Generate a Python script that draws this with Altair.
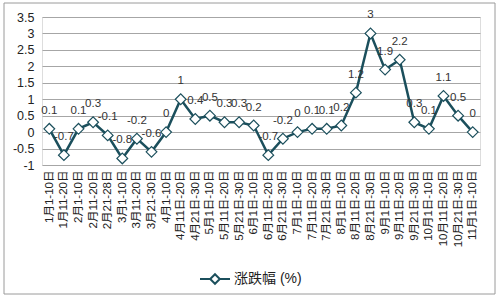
import altair as alt
import pandas as pd

categories = [
    "1月1-10日", "1月11-20日", "2月1-10日", "2月11-20日", "2月21-28日",
    "3月1-10日", "3月11-20日", "3月21-30日", "4月1-10日", "4月11日-20日",
    "4月21日-30日", "5月1日-10日", "5月11日-20日", "5月21日-30日", "6月1日-10日",
    "6月11日-20日", "6月21日-30日", "7月1日-10日", "7月11日-20日", "7月21日-30日",
    "8月1日-10日", "8月11日-20日", "8月21日-30日", "9月1日-10日", "9月11日-20日",
    "9月21日-30日", "10月1日-10日", "10月11日-20日", "10月21日-30日", "11月1日-10日",
]
values = [0.1, -0.7, 0.1, 0.3, -0.1, -0.8, -0.2, -0.6, 0, 1,
          0.4, 0.5, 0.3, 0.3, 0.2, -0.7, -0.2, 0, 0.1, 0.1,
          0.2, 1.2, 3, 1.9, 2.2, 0.3, 0.1, 1.1, 0.5, 0]
series_name = "涨跌幅 (%)"

df = pd.DataFrame({
    "cat": categories,
    "val": values,
    "lbl": [f"{v:g}" for v in values],
    "series": [series_name] * len(values),
})

LINE = "#1b4f5c"
FONT = "Liberation Sans, Noto Sans CJK SC, sans-serif"

xenc = alt.X("cat:N", sort=categories, title=None,
             scale=alt.Scale(type="point", padding=0.5),
             axis=alt.Axis(labelAngle=-90, ticks=False, domain=False, grid=False,
                           labelFontSize=11.5, labelColor="#222", labelPadding=5,
                           labelFont=FONT))
yenc = alt.Y("val:Q", title=None,
             scale=alt.Scale(domain=[-1, 3.5], nice=False, zero=False),
             axis=alt.Axis(values=[-1, -0.5, 0, 0.5, 1, 1.5, 2, 2.5, 3, 3.5],
                           labelExpr="replace(format(datum.value, '.1~f'), '−', '-')",
                           ticks=False, domain=False, gridColor="#a6a6a6",
                           labelFontSize=12.5, labelColor="#222", labelPadding=8,
                           labelFont=FONT))

base = alt.Chart(df)

line = base.mark_line(strokeWidth=2.5).encode(
    x=xenc, y=yenc,
    color=alt.Color("series:N", scale=alt.Scale(range=[LINE]),
                    legend=alt.Legend(
                        title=None, orient="none", legendX=157, legendY=246,
                        symbolType="M-1,0H-0.32M0.32,0H1M0,-0.32L0.32,0L0,0.32L-0.32,0Z",
                        symbolSize=900, symbolStrokeWidth=2,
                        symbolFillColor="white", symbolStrokeColor=LINE,
                        labelFontSize=14, labelFont=FONT, labelColor="#222",
                        labelOffset=3)),
)

points = base.mark_point(shape="diamond", filled=True, fill="white",
                         stroke=LINE, strokeWidth=1.2, size=115, opacity=1).encode(
    x=xenc, y=yenc)

labels = base.mark_text(dy=-18, baseline="middle", fontSize=11.5, color="#333",
                        font=FONT).encode(x=xenc, y=yenc, text="lbl:N")

frame = alt.Chart(pd.DataFrame({"a": [0]})).mark_rect(
    fill=None, stroke="#9a9a9a", strokeWidth=1).encode(
    x=alt.value(-38), x2=alt.value(453), y=alt.value(-14), y2=alt.value(277))

chart = alt.layer(line, points, labels, frame).properties(
    width=438, height=148,
    autosize=alt.AutoSizeParams(type="none"),
    padding={"left": 42, "top": 17, "right": 20, "bottom": 135},
).configure_view(stroke=None).configure(background="white")

chart.save("out.html", embed_options={"renderer": "svg", "actions": False})
